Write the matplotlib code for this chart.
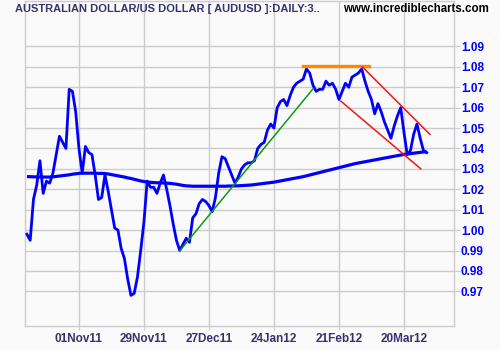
import numpy as np
import pandas as pd
import matplotlib.pyplot as plt

# AUD/USD daily closes, 10 Oct 2011 .. 29 Mar 2012 (business days)
start_date = "2011-10-10"
close = [
    0.998, 0.995, 1.015, 1.022, 1.034, 1.018, 1.024, 1.023, 1.028, 1.037,
    1.046, 1.043, 1.040, 1.069, 1.068, 1.058, 1.040, 1.028, 1.041, 1.038,
    1.037, 1.027, 1.015, 1.016, 1.027, 1.019, 1.010, 1.001, 1.000, 0.991,
    0.986, 0.976, 0.968, 0.969, 0.977, 0.990, 1.004, 1.024, 1.021, 1.021,
    1.018, 1.023, 1.027, 1.020, 1.012, 1.003, 0.995, 0.990, 0.993, 0.996,
    0.994, 1.006, 1.008, 1.013, 1.015, 1.014, 1.012, 1.009, 1.016, 1.028,
    1.036, 1.035, 1.031, 1.027, 1.023, 1.026, 1.030, 1.032, 1.033, 1.033,
    1.034, 1.040, 1.042, 1.043, 1.049, 1.052, 1.050, 1.060, 1.063, 1.064,
    1.061, 1.066, 1.070, 1.072, 1.073, 1.074, 1.079, 1.077, 1.071, 1.068,
    1.069, 1.069, 1.073, 1.071, 1.072, 1.069, 1.064, 1.068, 1.072, 1.070,
    1.075, 1.076, 1.077, 1.079, 1.073, 1.068, 1.064, 1.057, 1.062, 1.058,
    1.053, 1.049, 1.045, 1.051, 1.056, 1.060, 1.048, 1.037, 1.039, 1.047,
    1.052, 1.045, 1.039, 1.038,
]
# long moving average
ma = [
    1.0262, 1.0262, 1.0261, 1.0261, 1.0260, 1.0260, 1.0260, 1.0260, 1.0261, 1.0263,
    1.0265, 1.0267, 1.0269, 1.0271, 1.0274, 1.0276, 1.0278, 1.0279, 1.0279, 1.0279,
    1.0279, 1.0279, 1.0278, 1.0278, 1.0277, 1.0275, 1.0272, 1.0269, 1.0266, 1.0263,
    1.0260, 1.0256, 1.0253, 1.0249, 1.0245, 1.0241, 1.0238, 1.0236, 1.0234, 1.0233,
    1.0232, 1.0232, 1.0231, 1.0230, 1.0229, 1.0227, 1.0225, 1.0222, 1.0219, 1.0217,
    1.0216, 1.0215, 1.0215, 1.0215, 1.0215, 1.0215, 1.0215, 1.0215, 1.0215, 1.0215,
    1.0215, 1.0215, 1.0216, 1.0216, 1.0217, 1.0217, 1.0218, 1.0219, 1.0220, 1.0221,
    1.0223, 1.0225, 1.0227, 1.0229, 1.0231, 1.0233, 1.0235, 1.0238, 1.0241, 1.0244,
    1.0247, 1.0250, 1.0253, 1.0256, 1.0259, 1.0262, 1.0266, 1.0270, 1.0274, 1.0278,
    1.0282, 1.0286, 1.0290, 1.0294, 1.0298, 1.0302, 1.0306, 1.0310, 1.0314, 1.0318,
    1.0322, 1.0326, 1.0329, 1.0332, 1.0335, 1.0338, 1.0341, 1.0344, 1.0347, 1.0350,
    1.0353, 1.0356, 1.0359, 1.0362, 1.0365, 1.0368, 1.0371, 1.0373, 1.0375, 1.0377,
    1.0379, 1.0381, 1.0383, 1.0384,
]

# trend lines: (bar index, price) end points
green_idx, green_val = [47.1, 88.1], [0.990, 1.0694]
orange_idx, orange_val = [84.8, 105.3], [1.0803, 1.0803]
red_top_idx, red_top_val = [103.2, 124.0], [1.0800, 1.0469]
red_bot_idx, red_bot_val = [96.6, 121.2], [1.0632, 1.0300]

tick_dates = ["2011-11-01", "2011-11-29", "2011-12-27",
              "2012-01-24", "2012-02-21", "2012-03-20"]
y_ticks = [0.97, 0.98, 0.99, 1.00, 1.01, 1.02, 1.03, 1.04,
           1.05, 1.06, 1.07, 1.08, 1.09]

dates = pd.bdate_range(start_date, periods=len(close))
x = np.arange(len(close))
tick_pos = [dates.get_loc(pd.Timestamp(d)) for d in tick_dates]
tick_lbl = [pd.Timestamp(d).strftime("%d%b%y") for d in tick_dates]

bg = "#fafafa"
grid = "#cccccc"
navy = "#33336e"
plt.rcParams["font.family"] = ["Liberation Sans", "DejaVu Sans"]

fig = plt.figure(figsize=(5, 3.5), dpi=100, facecolor=bg)
ax = fig.add_axes([0.05, 0.0686, 0.858, 0.928], facecolor=bg)

ax.plot(x, ma, color="#0000ff", lw=2.3, solid_capstyle="butt", zorder=3)
ax.plot(x, close, color="#0000ff", lw=2.0, zorder=4)
ax.plot(green_idx, green_val, color="#119911", lw=1.1, zorder=5)
ax.plot(orange_idx, orange_val, color="#ff8800", lw=2.4, zorder=5)
ax.plot(red_top_idx, red_top_val, color="#ff1111", lw=1.1, zorder=5)
ax.plot(red_bot_idx, red_bot_val, color="#ff1111", lw=1.1, zorder=5)

ax.set_xlim(-0.6, 131.4)
ax.set_ylim(0.9530, 1.1122)

ax.set_xticks(tick_pos)
ax.set_xticklabels(tick_lbl)
ax.set_yticks(y_ticks)
ax.set_yticklabels([f"{v:.2f}" for v in y_ticks])
ax.yaxis.tick_right()
ax.grid(True, color=grid, lw=1.0)
ax.set_axisbelow(True)
for s in ax.spines.values():
    s.set_color(grid)
    s.set_linewidth(1.0)
ax.tick_params(axis="y", colors=grid, length=4, labelcolor="#0000ff",
               labelsize=8.5, pad=1)
ax.tick_params(axis="x", colors=grid, length=3, labelcolor=navy,
               labelsize=8.5, pad=2)
for lbl in ax.get_xticklabels() + ax.get_yticklabels():
    lbl.set_fontweight("bold")

fig.text(0.03, 0.975, "AUSTRALIAN DOLLAR/US DOLLAR [ AUDUSD ]:DAILY:3..",
         color=navy, fontsize=8, fontweight="bold", va="center", ha="left")
fig.text(0.686, 0.975, "www.incrediblecharts.com", color="black",
         fontsize=8.3, fontweight="bold", va="center", ha="left")

fig.savefig("out.png", dpi=100, facecolor=bg)
